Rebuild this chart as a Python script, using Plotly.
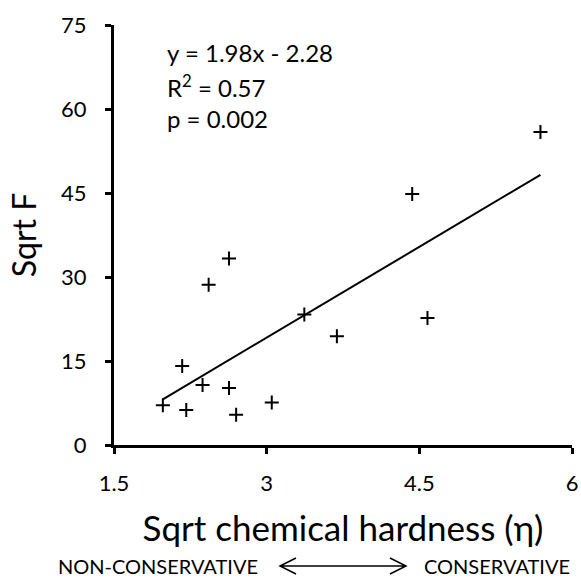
import numpy as np
import plotly.graph_objects as go

# Data
hardness = [1.98, 2.21, 2.17, 2.37, 2.63, 2.70, 3.05, 2.43, 2.63, 3.37, 3.69, 4.43, 4.58, 5.69]
sqrt_f = [7.1, 6.25, 14.1, 10.7, 10.2, 5.4, 7.6, 28.6, 33.3, 23.3, 19.4, 44.8, 22.7, 55.9]
x_ticks = [1.5, 3, 4.5, 6]
y_ticks = [0, 15, 30, 45, 60, 75]
stats_lines = ["y = 1.98x - 2.28", "R<sup>2</sup> = 0.57", "p = 0.002"]

FONT = "Lato"

slope, intercept = np.polyfit(hardness, sqrt_f, 1)
x_fit = np.array([min(hardness), max(hardness)])
y_fit = slope * x_fit + intercept

fig = go.Figure()
fig.add_trace(go.Scatter(x=x_fit, y=y_fit, mode="lines",
                         line=dict(color="black", width=2), hoverinfo="skip"))
fig.add_trace(go.Scatter(x=hardness, y=sqrt_f, mode="markers",
                         marker=dict(symbol="cross-thin", size=10,
                                     line=dict(color="black", width=2))))

# plot-area pixel geometry
L, R, T, B = 114, 9, 25, 136
W = 581 - L - R
H = 581 - T - B

def px(x):
    return (x - L) / W

def py(y):
    return (581 - B - y) / H

annotations = []
for i, s in enumerate(stats_lines):
    annotations.append(dict(x=px(165), y=py(53 + 32.5 * i), xref="paper", yref="paper",
                            text=s, showarrow=False, xanchor="left", yanchor="middle",
                            font=dict(family=FONT, size=24, color="black")))
annotations.append(dict(x=px(158), y=py(566), xref="paper", yref="paper",
                        text="NON-CONSERVATIVE", showarrow=False, xanchor="center",
                        yanchor="middle", font=dict(family=FONT, size=20, color="black")))
annotations.append(dict(x=px(497), y=py(566), xref="paper", yref="paper",
                        text="CONSERVATIVE", showarrow=False, xanchor="center",
                        yanchor="middle", font=dict(family=FONT, size=20, color="black")))

ay = py(566)
x1, x2 = px(280), px(406)
hx = 16 / W
hy = 8 / H
path = (f"M {x1},{ay} L {x2},{ay} "
        f"M {x1 + hx},{ay + hy} L {x1},{ay} L {x1 + hx},{ay - hy} "
        f"M {x2 - hx},{ay + hy} L {x2},{ay} L {x2 - hx},{ay - hy}")
shapes = [dict(type="path", path=path, xref="paper", yref="paper",
               line=dict(color="black", width=1.5))]

fig.update_layout(
    width=581, height=581,
    margin=dict(l=L, r=R, t=T, b=B, autoexpand=False),
    paper_bgcolor="white", plot_bgcolor="white",
    showlegend=False,
    font=dict(family=FONT, color="black"),
    annotations=annotations,
    shapes=shapes,
    xaxis=dict(range=[1.5, 6], tickvals=x_ticks, ticktext=[str(v) for v in x_ticks],
               showgrid=False, zeroline=False, showline=True, linecolor="black",
               linewidth=3, ticks="outside", ticklen=6, tickwidth=3, tickcolor="black",
               tickfont=dict(family=FONT, size=22), ticklabelstandoff=11, automargin=False,
               title=dict(text="Sqrt chemical hardness (η)", font=dict(family=FONT, size=35),
                          standoff=22)),
    yaxis=dict(range=[0, 75], tickvals=y_ticks, ticktext=[str(v) for v in y_ticks],
               showgrid=False, zeroline=False, showline=True, linecolor="black",
               linewidth=3, ticks="outside", ticklen=6, tickwidth=3, tickcolor="black",
               tickfont=dict(family=FONT, size=22), ticklabelstandoff=14, automargin=False,
               title=dict(text="Sqrt F", font=dict(family=FONT, size=32), standoff=15)),
)

fig.write_html("out.html")
